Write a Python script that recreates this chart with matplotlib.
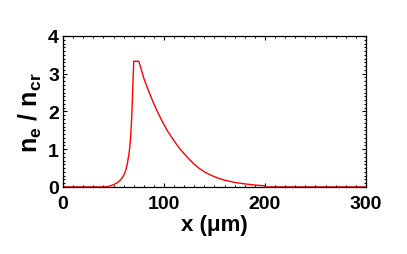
#!/usr/bin/env python
"""
Electron density profile n_e / n_cr against x (um).
"""
import matplotlib
matplotlib.use("Agg")
from matplotlib import pyplot as plt
from matplotlib.ticker import MultipleLocator

# values
x_um = [0, 40, 44, 47, 50, 53, 55, 57, 59, 61, 62, 63, 64, 65, 66, 67, 68, 69, 70, 75,
        77, 80, 83, 86, 89, 92, 95, 98, 101, 104, 107, 110, 113, 116, 120, 125, 130, 135,
        140, 145, 150, 155, 160, 170, 180, 190, 200, 200, 300]
ne_ncr = [0.0, 0.0, 0.01, 0.03, 0.06, 0.1, 0.14, 0.19, 0.26, 0.36, 0.44, 0.54, 0.67, 0.83, 1.03, 1.35, 1.85, 2.6, 3.33, 3.33,
          3.15, 2.88, 2.66, 2.46, 2.26, 2.08, 1.91, 1.75, 1.6, 1.46, 1.34, 1.22, 1.11, 1.0, 0.88, 0.73, 0.6, 0.49,
          0.4, 0.33, 0.27, 0.22, 0.18, 0.12, 0.08, 0.05, 0.03, 0.0, 0.0]

plt.rcParams['font.family'] = ['Liberation Sans', 'DejaVu Sans']
plt.rcParams['font.weight'] = 'bold'
plt.rcParams['mathtext.fontset'] = 'custom'
plt.rcParams['mathtext.bf'] = 'Liberation Sans:bold'
plt.rcParams['mathtext.rm'] = 'Liberation Sans:bold'
plt.rcParams['mathtext.default'] = 'bf'

fig = plt.figure(figsize=(4.07, 2.55), dpi=100)
ax = fig.add_axes([0.155, 0.263, 0.744, 0.592])

ax.plot(x_um, ne_ncr, color='red', lw=1.0)

ax.set_xlim(0, 300)
ax.set_ylim(0, 4)
ax.xaxis.set_major_locator(MultipleLocator(100))
ax.xaxis.set_minor_locator(MultipleLocator(10))
ax.yaxis.set_major_locator(MultipleLocator(1))
ax.yaxis.set_minor_locator(MultipleLocator(0.1))
ax.tick_params(which='both', direction='in', top=True, right=True, width=0.8)
ax.tick_params(which='major', length=3, labelsize=14)
ax.tick_params(axis='x', which='major', pad=5.5)
ax.tick_params(axis='y', which='major', pad=3)
ax.tick_params(which='minor', length=1.5)
for s in ax.spines.values():
	s.set_linewidth(0.9)

ax.set_xlabel(u"x (\u03bcm)", fontsize=16, fontweight='bold', labelpad=2)
ax.set_ylabel(r"$n_e$ / $n_{cr}$", fontsize=18, fontweight='bold', labelpad=3)

fig.savefig("out.png", dpi=100)
